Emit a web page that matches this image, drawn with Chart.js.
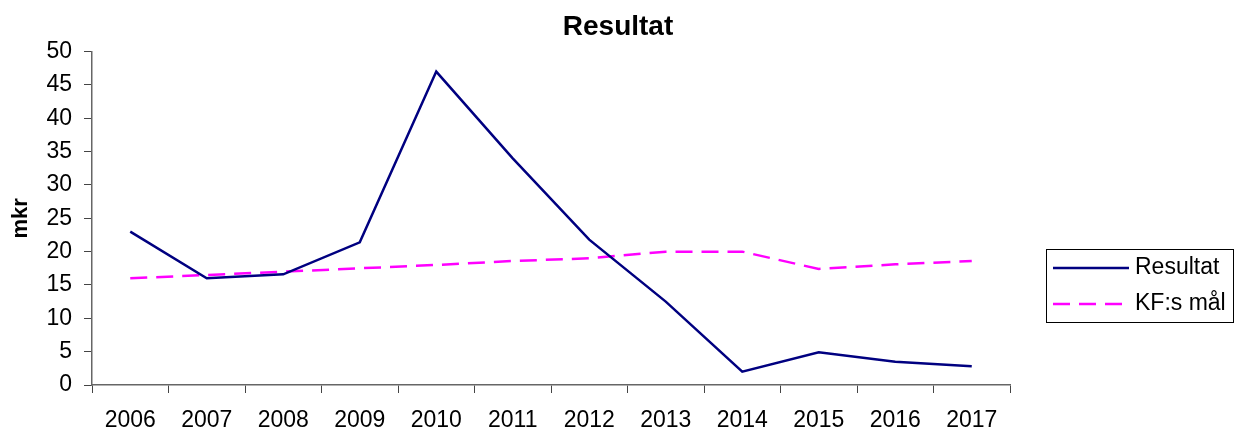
<!DOCTYPE html>
<html>
<head>
<meta charset="utf-8">
<script src="https://cdn.jsdelivr.net/npm/chart.js@4"></script>
<style>
  body { margin: 0; background: #fff; }
  #wrap { width: 1236px; height: 430px; }
</style>
</head>
<body>
<div id="wrap"><canvas id="myChart"></canvas></div>
<script>
const years = ['2006', '2007', '2008', '2009', '2010', '2011', '2012', '2013', '2014', '2015', '2016', '2017'];
const resultat = [23, 16, 16.6, 21.4, 47, 34, 21.8, 12.5, 2, 4.9, 3.5, 2.8];
const kfMal = [16, 16.5, 17, 17.5, 18, 18.6, 19, 20, 20, 17.4, 18.1, 18.6];
const yTicks = [0, 5, 10, 15, 20, 25, 30, 35, 40, 45, 50];

const FONT = "'Liberation Sans', Arial, sans-serif";

// legend drawn by hand so it can sit in a framed box like the original
const boxLegend = {
  id: 'boxLegend',
  afterDraw(chart) {
    const c = chart.ctx;
    const x0 = 1046, y0 = 249, w = 187, h = 73;
    c.save();
    c.strokeStyle = '#000';
    c.lineWidth = 1;
    c.strokeRect(x0 + 0.5, y0 + 0.5, w, h);
    c.font = '23px ' + FONT;
    c.textBaseline = 'middle';
    c.fillStyle = '#000';
    chart.data.datasets.forEach((ds, i) => {
      const y = 268 + i * 36;
      c.beginPath();
      c.strokeStyle = ds.borderColor;
      c.lineWidth = ds.borderWidth;
      c.setLineDash(ds.borderDash || []);
      c.moveTo(1053, y);
      c.lineTo(1129, y);
      c.stroke();
      c.setLineDash([]);
      c.fillText(ds.label, 1135, y);
    });
    c.restore();
  }
};

const ctx = document.getElementById('myChart');
new Chart(ctx, {
  type: 'line',
  data: {
    labels: years,
    datasets: [{
      label: 'Resultat',
      data: resultat,
      borderColor: '#000080',
      borderWidth: 2.5,
      pointRadius: 0,
      tension: 0
    }, {
      label: 'KF:s mål',
      data: kfMal,
      borderColor: '#ff00ff',
      borderWidth: 2.5,
      borderDash: [17, 9],
      pointRadius: 0,
      tension: 0
    }]
  },
  options: {
    responsive: true,
    maintainAspectRatio: false,
    animation: false,
    layout: { padding: 0 },
    plugins: {
      legend: { display: false },
      tooltip: { enabled: false },
      title: {
        display: true,
        text: 'Resultat',
        color: '#000',
        font: { family: FONT, size: 28, weight: 'bold' },
        padding: { top: 10, bottom: 8 }
      }
    },
    scales: {
      x: {
        offset: true,
        grid: { offset: true, drawOnChartArea: false, tickLength: 8, color: '#444' },
        border: { color: '#666', width: 1.5 },
        ticks: { color: '#000', padding: 14, maxRotation: 0, font: { family: FONT, size: 23 } },
        afterFit(scale) { scale.height = 45; }
      },
      y: {
        min: 0,
        max: 50,
        afterBuildTicks(scale) { scale.ticks = yTicks.map(v => ({ value: v })); },
        grid: { drawOnChartArea: false, tickLength: 8, color: '#444' },
        border: { color: '#666', width: 1.5 },
        ticks: { color: '#000', padding: 12, font: { family: FONT, size: 23 } },
        title: {
          display: true,
          text: 'mkr',
          color: '#000',
          font: { family: FONT, size: 22, weight: 'bold' },
          padding: { top: 8, bottom: 0 }
        },
        afterFit(scale) { scale.width = 92; }
      },
      // empty right-hand scale that only reserves room for the legend box
      spacer: {
        type: 'linear',
        position: 'right',
        display: true,
        grid: { display: false, drawTicks: false },
        border: { display: false },
        ticks: { display: false },
        afterFit(scale) { scale.width = 226; }
      }
    }
  },
  plugins: [boxLegend]
});
</script>
</body>
</html>
